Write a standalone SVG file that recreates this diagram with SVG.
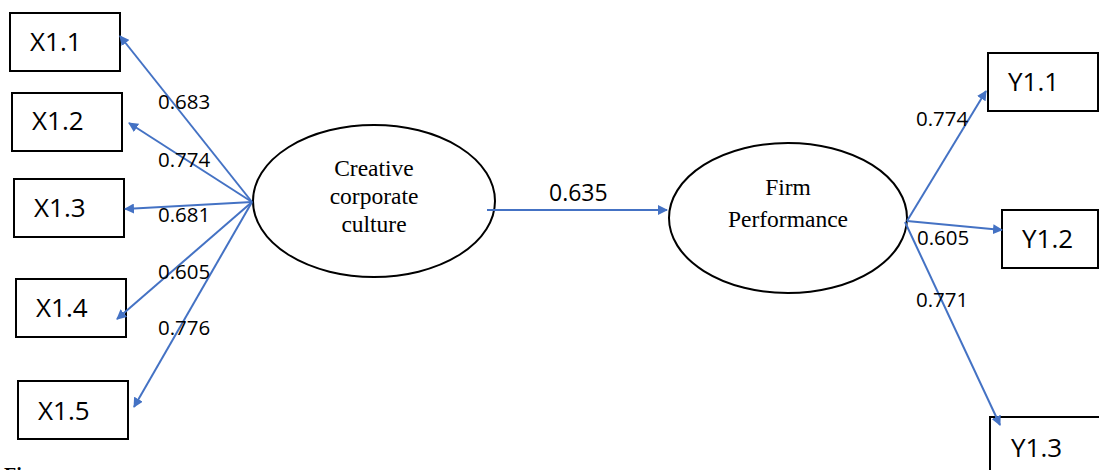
<svg xmlns="http://www.w3.org/2000/svg" width="1099" height="470" viewBox="0 0 1099 470">
<defs>
<marker id="ah" viewBox="0 0 10 10" refX="9" refY="5" markerWidth="10" markerHeight="10" markerUnits="userSpaceOnUse" orient="auto">
<path d="M0,0 L10,5 L0,10 z" fill="#4472C4"/>
</marker>
<style>
.box{fill:#fff;stroke:#000;stroke-width:2}
.ell{fill:#fff;stroke:#000;stroke-width:2}
.bt{font-family:"Open Sans","Liberation Sans",sans-serif;font-size:26px;fill:#000}
.et{font-family:"Liberation Serif","Times New Roman",serif;font-size:23.5px;fill:#000;text-anchor:middle}
.lbl{font-family:"Open Sans","Liberation Sans",sans-serif;font-size:20.5px;fill:#000}
.c{stroke:#4472C4;stroke-width:2;fill:none;marker-end:url(#ah)}
</style>
</defs>
<rect width="1099" height="470" fill="#fff"/>
<g id="X1.1"><rect class="box" x="10" y="13" width="110" height="58"/><text class="bt" x="30" y="51">X1.1</text></g>
<g id="X1.2"><rect class="box" x="12" y="93" width="110" height="58"/><text class="bt" x="32" y="130">X1.2</text></g>
<g id="X1.3"><rect class="box" x="14" y="179" width="110" height="58"/><text class="bt" x="34" y="217">X1.3</text></g>
<g id="X1.4"><rect class="box" x="16" y="279" width="110" height="58"/><text class="bt" x="36" y="317">X1.4</text></g>
<g id="X1.5"><rect class="box" x="18" y="381" width="110" height="58"/><text class="bt" x="38" y="420">X1.5</text></g>
<g id="CCC"><ellipse class="ell" cx="374" cy="201" rx="121" ry="76"/>
<text class="et" x="374" y="176">Creative</text><text class="et" x="374" y="204">corporate</text><text class="et" x="374" y="232">culture</text></g>
<g id="FP"><ellipse class="ell" cx="788" cy="218" rx="119" ry="75"/>
<text class="et" x="788" y="195">Firm</text><text class="et" x="788" y="227">Performance</text></g>
<g id="Y1.1"><rect class="box" x="988" y="53" width="110" height="58"/><text class="bt" x="1008" y="91">Y1.1</text></g>
<g id="Y1.2"><rect class="box" x="1002" y="210" width="96" height="58"/><text class="bt" x="1022" y="248">Y1.2</text></g>
<g id="Y1.3"><rect class="box" x="990" y="417" width="120" height="60"/><text class="bt" x="1011" y="457">Y1.3</text></g>
<g id="connectors">
<line class="c" x1="252" y1="202" x2="120" y2="36"/>
<line class="c" x1="252" y1="202" x2="129" y2="123"/>
<line class="c" x1="252" y1="202" x2="125" y2="209"/>
<line class="c" x1="252" y1="202" x2="117" y2="319"/>
<line class="c" x1="252" y1="202" x2="134" y2="407"/>
<line class="c" x1="487" y1="210" x2="667" y2="210"/>
<line class="c" x1="907" y1="221" x2="986" y2="91"/>
<line class="c" x1="907" y1="221" x2="1002" y2="230"/>
<line class="c" x1="905" y1="222" x2="1000" y2="425"/>
</g>
<g id="labels">
<text class="lbl" x="158" y="109">0.683</text>
<text class="lbl" x="158" y="167">0.774</text>
<text class="lbl" x="158" y="222">0.681</text>
<text class="lbl" x="158" y="279">0.605</text>
<text class="lbl" x="158" y="335">0.776</text>
<text class="lbl" x="549" y="201" style="font-size:23px">0.635</text>
<text class="lbl" x="916" y="126">0.774</text>
<text class="lbl" x="917" y="245">0.605</text>
<text class="lbl" x="916" y="307">0.771</text>
</g>
<text x="4" y="482" style="font-family:'Liberation Serif',serif;font-size:20px;font-weight:bold">Fi</text>
</svg>
